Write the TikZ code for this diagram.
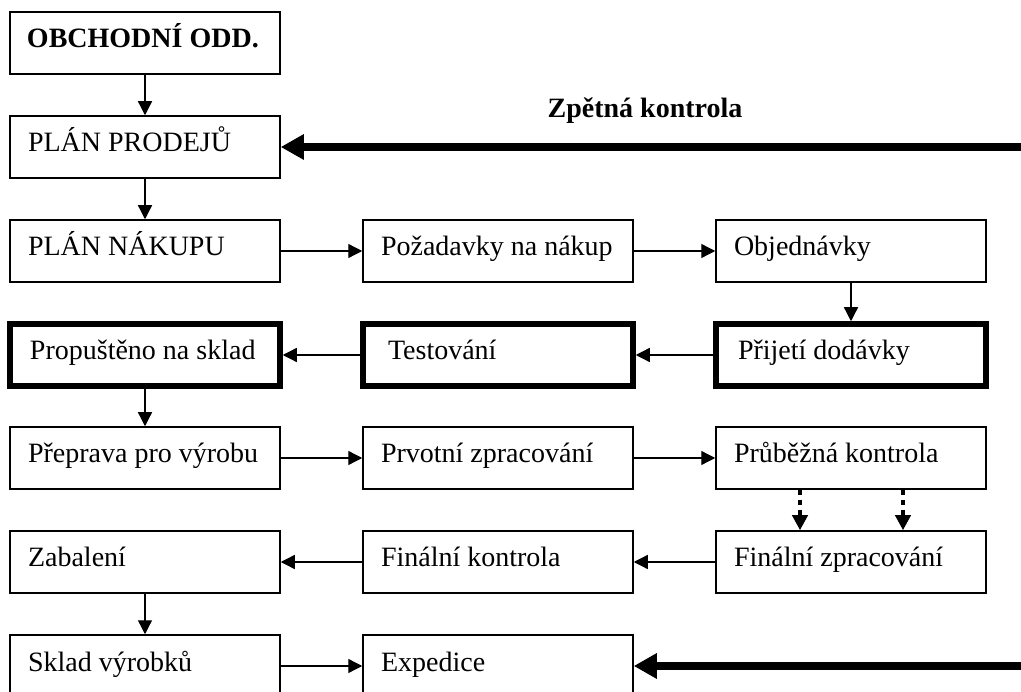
\documentclass[tikz,border=0pt]{standalone}
\usepackage{fontspec}
\setmainfont{Liberation Serif}
\usetikzlibrary{arrows.meta}
\newcommand\diagfont{\fontsize{28pt}{32pt}\selectfont}
\begin{document}
\begin{tikzpicture}[x=1pt,y=-1pt,
  every node/.style={font=\diagfont},
  textwd/.store in=\boxtextwd, textwd=234pt,
  box/.style={draw, rectangle, line width=1.5pt, minimum width=270pt, minimum height=62pt,
    inner xsep=0pt, inner ysep=0pt, text height=18pt, text depth=8pt,
    execute at begin node={\hbox to \boxtextwd\bgroup},
    execute at end node={\hfil\egroup}},
  heavybox/.style={box, line width=5.5pt},
  flow/.style={line width=1.3pt, -{Triangle[length=14pt,width=14pt]}},
  feedback/.style={line width=7.5pt, -{Triangle[length=23pt,width=24pt]}},
  check/.style={line width=4.5pt, dash pattern=on 5pt off 5pt, -{Triangle[length=15pt,width=15pt]}},
]
\clip (0,0) rectangle (1021,692);

% planning
\node[box, font=\diagfont\bfseries, textwd=236pt] (obch) at (145,43) {OBCHODNÍ ODD.};
\node[box] (prodeje) at (145,147) {PLÁN PRODEJŮ};
\node[box] (nakup) at (145,251) {PLÁN NÁKUPU};
\node[box] (pozad) at (498,251) {Požadavky na nákup};
\node[box] (objed) at (851,251) {Objednávky};

% goods receipt
\node[heavybox, textwd=230pt] (propust) at (145,355) {Propuštěno na sklad};
\node[heavybox, textwd=220pt] (test) at (498,355) {Testování};
\node[heavybox, textwd=226pt] (prijeti) at (851,355) {Přijetí dodávky};

% production
\node[box] (preprava) at (145,458) {Přeprava pro výrobu};
\node[box] (prvotni) at (498,458) {Prvotní zpracování};
\node[box] (prubez) at (851,458) {Průběžná kontrola};
\node[box] (zabal) at (145,562) {Zabalení};
\node[box] (finkon) at (498,562) {Finální kontrola};
\node[box] (finzpr) at (851,562) {Finální zpracování};
\node[box] (sklad) at (145,666) {Sklad výrobků};
\node[box] (exped) at (498,666) {Expedice};

% feedback label
\node[font=\diagfont\bfseries, anchor=base] (zpet) at (645,118) {Zpětná kontrola};

% flow connectors
\draw[flow] (obch) -- (prodeje);
\draw[flow] (prodeje) -- (nakup);
\draw[flow] (nakup) -- (pozad);
\draw[flow] (pozad) -- (objed);
\draw[flow] (objed) -- (prijeti);
\draw[flow] (prijeti) -- (test);
\draw[flow] (test) -- (propust);
\draw[flow] (propust) -- (preprava);
\draw[flow] (preprava) -- (prvotni);
\draw[flow] (prvotni) -- (prubez);
\draw[check] ([xshift=-51pt]prubez.south) -- ([xshift=-51pt]finzpr.north);
\draw[check] ([xshift=52pt]prubez.south) -- ([xshift=52pt]finzpr.north);
\draw[flow] (finzpr) -- (finkon);
\draw[flow] (finkon) -- (zabal);
\draw[flow] (zabal) -- (sklad);
\draw[flow] (sklad) -- (exped);

% feedback loops entering from the right edge
\coordinate (fbtop) at (1021,147);
\coordinate (fbbottom) at (1021,666);
\draw[feedback] (fbtop) -- (prodeje.east);
\draw[feedback] (fbbottom) -- (exped.east);
\end{tikzpicture}
\end{document}
